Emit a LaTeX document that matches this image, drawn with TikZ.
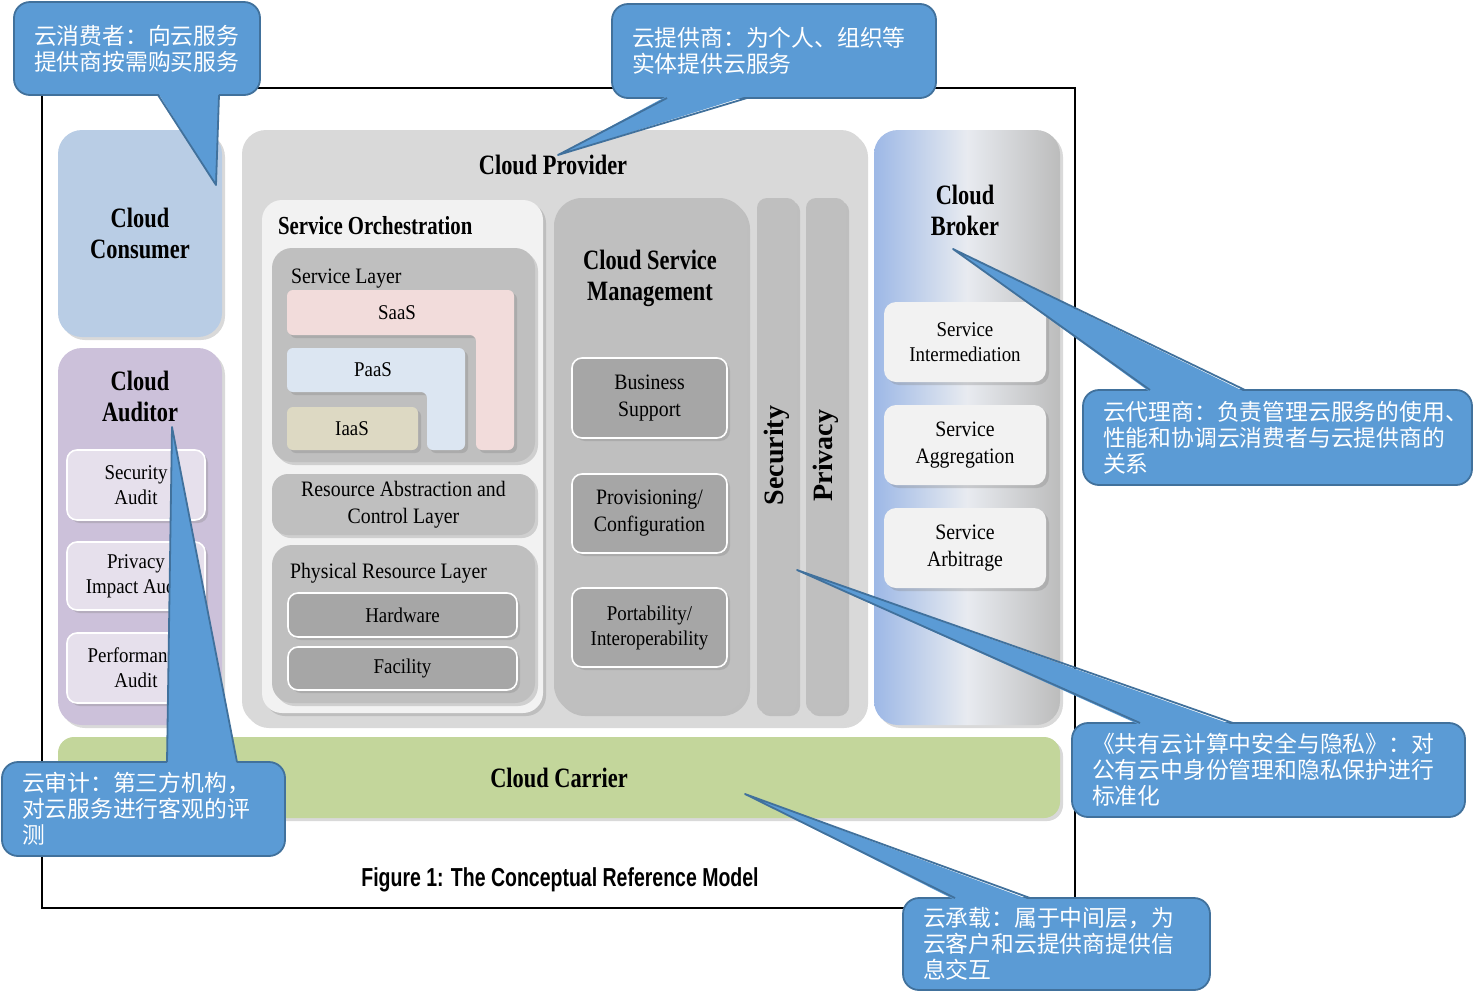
\documentclass[tikz,border=0pt]{standalone}
\usepackage{fontspec}
\setmainfont{Liberation Serif}
\newfontfamily\condfont[FakeStretch=0.8]{Liberation Serif}
\newfontfamily\bodyfont[FakeStretch=0.9]{Liberation Serif}
\newfontfamily\capfont[FakeStretch=0.75]{Liberation Sans}
\newfontfamily\cjk{Noto Sans CJK SC}
\usetikzlibrary{positioning}
\usetikzlibrary{shadows}
\usetikzlibrary{fit}
\definecolor{consumerblue}{HTML}{B9CDE5}
\definecolor{auditorlilac}{HTML}{CCC1DA}
\definecolor{auditlight}{HTML}{E6E0EC}
\definecolor{providergrey}{HTML}{D9D9D9}
\definecolor{orchgrey}{HTML}{F2F2F2}
\definecolor{layergrey}{HTML}{BFBFBF}
\definecolor{unitgrey}{HTML}{A6A6A6}
\definecolor{carriergreen}{HTML}{C3D69B}
\definecolor{saaspink}{HTML}{F2DCDB}
\definecolor{paasblue}{HTML}{DCE6F2}
\definecolor{iaastan}{HTML}{DDD9C3}
\definecolor{brokerblue}{HTML}{9DB8E6}
\definecolor{brokerlight}{HTML}{E8EBF0}
\definecolor{brokergrey}{HTML}{BCBCBC}
\definecolor{calloutblue}{HTML}{5B9BD5}
\definecolor{calloutedge}{HTML}{41719C}

\tikzset{
  softshadow/.style={drop shadow={shadow xshift=1.5pt, shadow yshift=-1.5pt, opacity=0.3}},
  box/.style={rectangle, rounded corners=#1, inner sep=0pt, softshadow},
  box/.default=12pt,
  unit/.style={box=5pt, draw=white, line width=0.8pt},
  lshape/.style={rounded corners=3pt, softshadow},
  heading/.style={font=\condfont\bfseries\fontsize{14}{15.5}\selectfont, align=center},
  subheading/.style={font=\condfont\bfseries\fontsize{13}{15}\selectfont},
  bodytext/.style={font=\bodyfont\fontsize{11}{13.5}\selectfont, align=center},
  smalltext/.style={font=\bodyfont\fontsize{10.5}{12.5}\selectfont, align=center},
  pillar/.style={font=\bfseries\fontsize{14}{16}\selectfont, rotate=90},
  callout/.style={rectangle, rounded corners=8pt, fill=calloutblue, draw=calloutedge,
    line width=0.9pt, text=white, inner xsep=10pt, inner ysep=0pt, align=left,
    font=\cjk\fontsize{11.4}{13}\selectfont},
  wedgeedge/.style={draw=calloutedge, line width=0.9pt, line join=round}
}

\begin{document}
\begin{tikzpicture}[x=0.5pt, y=-0.5pt]
  \useasboundingbox (0,0) rectangle (1484,997);

  % Rahmen
  \draw[line width=1pt] (42,88) rectangle (1075,908);

  % Cloud Consumer
  \node[box, fill=consumerblue, fit={(58,130) (222,337)}] (consumer) {};
  \node[heading] (consumertext) at (consumer.center) {Cloud\\Consumer};

  % Cloud Auditor
  \node[box, fill=auditorlilac, fit={(58,348) (222,725)}] (auditor) {};
  \node[heading] (auditortitle) at (140,396) {Cloud\\Auditor};
  \node[unit, fill=auditlight, fit={(67,450) (205,520)}] (secaudit) {};
  \node[unit, fill=auditlight, fit={(67,542) (205,610)}] (privaudit) {};
  \node[unit, fill=auditlight, fit={(67,633) (205,703)}] (perfaudit) {};
  \node[smalltext] at (secaudit.center) {Security\\Audit};
  \node[smalltext] at (privaudit.center) {Privacy\\Impact Audit};
  \node[smalltext] at (perfaudit.center) {Performance\\Audit};

  % Cloud Provider
  \node[box, fill=providergrey, fit={(242,130) (865,725)}] (provider) {};
  \node[heading] (providertitle) at (553,165) {Cloud Provider};

  % Service Orchestration
  \node[box=10pt, fill=orchgrey, fit={(262,200) (543,713)}] (orchestration) {};
  \node[subheading, anchor=west] (orchtitle) at (271,226) {Service Orchestration};

  \node[box=10pt, fill=layergrey, fit={(272,248) (535,462)}] (servicelayer) {};
  \node[bodytext, anchor=west] (servicelayertitle) at (284,279) {Service Layer};
  \fill[saaspink, lshape] (287,290) -- (514,290) -- (514,450) -- (476,450) -- (476,335) -- (287,335) -- cycle;
  \fill[paasblue, lshape] (287,348) -- (465,348) -- (465,450) -- (427,450) -- (427,392) -- (287,392) -- cycle;
  \fill[iaastan, lshape] (287,407) rectangle (418,450);
  \node[smalltext] (saas) at (397,313) {SaaS};
  \node[smalltext] (paas) at (373,370) {PaaS};
  \node[smalltext] (iaas) at (352,429) {IaaS};

  \node[box=8pt, fill=layergrey, fit={(272,474) (535,535)}] (abstraction) {};
  \node[bodytext] (abstractiontext) at (abstraction.center) {Resource Abstraction and\\Control Layer};

  \node[box=10pt, fill=layergrey, fit={(272,545) (535,703)}] (physical) {};
  \node[bodytext, anchor=west] (physicaltitle) at (283,573) {Physical Resource Layer};
  \node[unit, fill=unitgrey, fit={(288,593) (517,637)}] (hardware) {};
  \node[unit, fill=unitgrey, fit={(288,647) (517,690)}] (facility) {};
  \node[smalltext] at (hardware.center) {Hardware};
  \node[smalltext] at (facility.center) {Facility};

  % Cloud Service Management
  \node[box=14pt, fill=layergrey, fit={(554,198) (747,713)}] (management) {};
  \node[heading] (managementtitle) at (650,278) {Cloud Service\\Management};
  \node[unit, fill=unitgrey, fit={(572,358) (727,438)}] (business) {};
  \node[unit, fill=unitgrey, fit={(572,474) (727,553)}] (provisioning) {};
  \node[unit, fill=unitgrey, fit={(572,588) (727,667)}] (portability) {};
  \node[bodytext] at (business.center) {Business\\Support};
  \node[bodytext] at (provisioning.center) {Provisioning/\\Configuration};
  \node[smalltext] at (portability.center) {Portability/\\Interoperability};

  % Security, Privacy
  \node[box=5pt, fill=layergrey, fit={(757,198) (797,713)}] (security) {};
  \node[pillar] (securitytext) at (security.center) {Security};
  \node[box=5pt, fill=layergrey, fit={(806,198) (846,713)}] (privacy) {};
  \node[pillar] (privacytext) at (privacy.center) {Privacy};

  % Cloud Broker
  \node[box, left color=brokerblue, right color=brokergrey, middle color=brokerlight,
    fit={(874,130) (1060,725)}] (broker) {};
  \node[heading] (brokertitle) at (965,210) {Cloud\\Broker};
  \node[box=6pt, fill=orchgrey, fit={(884,302) (1046,382)}] (intermediation) {};
  \node[box=6pt, fill=orchgrey, fit={(884,405) (1046,485)}] (aggregation) {};
  \node[box=6pt, fill=orchgrey, fit={(884,508) (1046,588)}] (arbitrage) {};
  \node[smalltext] at (intermediation.center) {Service\\Intermediation};
  \node[bodytext] at (aggregation.center) {Service\\Aggregation};
  \node[bodytext] at (arbitrage.center) {Service\\Arbitrage};

  % Cloud Carrier
  \node[box=8pt, fill=carriergreen, fit={(58,737) (1060,818)}] (carrier) {};
  \node[heading] (carriertext) at (carrier.center) {Cloud Carrier};

  % Bildunterschrift
  \node[font=\capfont\bfseries\fontsize{13}{15}\selectfont] (caption) at (560,880) {Figure 1: The Conceptual Reference Model};

  % Sprechblasen
  \node[callout, minimum width=123pt, minimum height=46.5pt, text width=103pt] (consumernote) at (137,48.5) {云消费者：向云服务\\提供商按需购买服务};
  \coordinate (consumertip) at (216,185);
  \coordinate (consumerbaseA) at (158,95);
  \coordinate (consumerbaseB) at (219,95);
  \fill[calloutblue] (158,93) -- (consumertip) -- (219,93) -- cycle;
  \draw[wedgeedge] (consumerbaseA) -- (consumertip) -- (consumerbaseB);

  \node[callout, minimum width=162pt, minimum height=47pt, text width=142pt] (providernote) at (774,51) {云提供商：为个人、组织等\\实体提供云服务};
  \coordinate (providertip) at (558,155);
  \coordinate (providerbaseA) at (667,98);
  \coordinate (providerbaseB) at (747,98);
  \fill[calloutblue] (667,96) -- (providertip) -- (747,96) -- cycle;
  \draw[wedgeedge] (providerbaseA) -- (providertip) -- (providerbaseB);

  \node[callout, minimum width=194.5pt, minimum height=47.5pt, text width=174.5pt] (brokernote) at (1277.5,437.5) {云代理商：负责管理云服务的使用、\\性能和协调云消费者与云提供商的\\关系};
  \coordinate (brokertip) at (953,249);
  \coordinate (brokerbaseA) at (1150,390);
  \coordinate (brokerbaseB) at (1245,390);
  \fill[calloutblue] (1150,392) -- (brokertip) -- (1245,392) -- cycle;
  \draw[wedgeedge] (brokerbaseA) -- (brokertip) -- (brokerbaseB);

  \node[callout, minimum width=196.5pt, minimum height=47pt, text width=176.5pt] (privacynote) at (1268.5,770) {《共有云计算中安全与隐私》：对\\公有云中身份管理和隐私保护进行\\标准化};
  \coordinate (privacytip) at (797,570);
  \coordinate (privacybaseA) at (1140,723);
  \coordinate (privacybaseB) at (1233,723);
  \fill[calloutblue] (1140,725) -- (privacytip) -- (1233,725) -- cycle;
  \draw[wedgeedge] (privacybaseA) -- (privacytip) -- (privacybaseB);

  \node[callout, minimum width=141.5pt, minimum height=47pt, text width=121.5pt] (auditornote) at (143.5,809) {云审计：第三方机构，\\对云服务进行客观的评\\测};
  \coordinate (auditortip) at (172,427);
  \coordinate (auditorbaseA) at (167,762);
  \coordinate (auditorbaseB) at (237,762);
  \fill[calloutblue] (167,764) -- (auditortip) -- (237,764) -- cycle;
  \draw[wedgeedge] (auditorbaseA) -- (auditortip) -- (auditorbaseB);

  \node[callout, minimum width=153.5pt, minimum height=46pt, text width=133.5pt] (carriernote) at (1056.5,944) {云承载：属于中间层，为\\云客户和云提供商提供信\\息交互};
  \coordinate (carriertip) at (745,794);
  \coordinate (carrierbaseA) at (955,898);
  \coordinate (carrierbaseB) at (1030,898);
  \fill[calloutblue] (955,900) -- (carriertip) -- (1030,900) -- cycle;
  \draw[wedgeedge] (carrierbaseA) -- (carriertip) -- (carrierbaseB);

\end{tikzpicture}
\end{document}
